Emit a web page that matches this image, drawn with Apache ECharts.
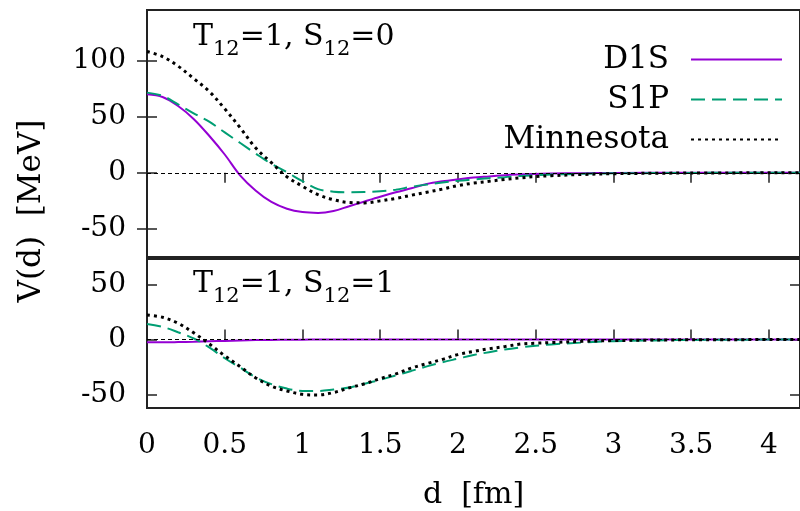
<!DOCTYPE html>
<html>
<head>
<meta charset="utf-8">
<script src="https://cdn.jsdelivr.net/npm/echarts@6/dist/echarts.min.js"></script>
<style>html,body{margin:0;padding:0;background:#fff}#c{width:800px;height:511px}</style>
</head>
<body>
<div id="c"></div>
<script>
// distance d [fm]
const d = [0, 0.1, 0.2, 0.3, 0.4, 0.5, 0.6, 0.7, 0.8, 0.9, 1.0, 1.1, 1.2, 1.3, 1.4, 1.5, 1.6, 1.7, 1.8, 1.9, 2.0, 2.1, 2.2, 2.3, 2.4, 2.5, 2.6, 2.8, 3.0, 3.5, 4.2];
// T12=1, S12=0 panel
const topD1S = [70, 67.5, 59.5, 48, 33, 16.3, -2.5, -16, -26, -32, -35, -35.7, -34, -29.8, -25.5, -21.3, -17.4, -13.8, -10, -7.6, -5.8, -4.2, -3.2, -2.2, -1.4, -1, -0.6, -0.3, -0.1, 0, 0];
const topS1P = [71.4, 68.5, 61, 53, 45.5, 36, 26.5, 17, 8, 0.5, -7.5, -14.5, -16.8, -17.3, -17.2, -16.5, -15, -12.5, -10.5, -8.7, -7.2, -6, -4.8, -3.9, -2.8, -2.2, -1.6, -0.9, -0.5, -0.1, 0];
const topMinn = [108, 103.5, 95, 84, 72.5, 57, 40, 22, 9, -3.5, -12, -19.5, -24, -26.5, -26.8, -25, -22.8, -20, -17.3, -14.5, -11.4, -9.2, -7.6, -5.9, -4.5, -3.4, -2.6, -1.5, -0.8, -0.2, 0];
// T12=1, S12=1 panel
const botD1S = [-2.5, -2.5, -2.3, -2, -1.6, -1.2, -0.8, -0.5, -0.3, -0.2, -0.1, 0, 0, 0, 0, 0, 0, 0, 0, 0, 0, 0, 0, 0, 0, 0, 0, 0, 0, 0, 0];
const botS1P = [14.1, 11.5, 6.6, 1, -7.1, -16.9, -25.5, -34.3, -40.4, -44.4, -46.5, -46.6, -45.3, -43.5, -40, -36.5, -32.5, -28.4, -24.3, -20.6, -17.3, -14, -11.4, -9, -7.1, -5.6, -4.4, -2.7, -1.5, -0.3, 0];
const botMinn = [22.3, 20.2, 14.8, 6.1, -3.9, -14.7, -24.6, -34.8, -42.2, -46.6, -49.6, -50.2, -48, -43.8, -40, -35.4, -31.1, -25.8, -21.8, -17.9, -13.6, -10.8, -8.3, -6.4, -4.1, -3.3, -2.7, -1.6, -0.9, -0.2, 0];
// tick labels
const xTicks = [0, 0.5, 1, 1.5, 2, 2.5, 3, 3.5, 4];
const yTicksTop = [-50, 0, 50, 100];
const yTicksBot = [-50, 0, 50];
const seriesNames = ['D1S', 'S1P', 'Minnesota'];
// panel labels: [text, isSubscript]
const labelTop = [['T', false], ['12', true], ['=1, S', false], ['12', true], ['=0', false]];
const labelBot = [['T', false], ['12', true], ['=1, S', false], ['12', true], ['=1', false]];

const zip = ys => d.map((x, i) => [x, ys[i]]);
const FONT = 'DejaVu Serif';
const INK = '#000';
const FRAME = '#222';

const styles = {
  'D1S': {color: '#9400d3', width: 2, type: 'solid'},
  'S1P': {color: '#009e73', width: 2, type: [14, 7]},
  'Minnesota': {color: '#000000', width: 3, type: [3, 4]}
};

function mkSeries(name, ys, gi, withZero) {
  const s = styles[name];
  const o = {
    name: name, type: 'line', xAxisIndex: gi === 0 ? 0 : 2, yAxisIndex: gi === 0 ? 0 : 2,
    data: zip(ys), smooth: 0.35, symbol: 'none', showSymbol: false,
    lineStyle: {color: s.color, width: s.width, type: s.type},
    itemStyle: {color: s.color}, animation: false, silent: true
  };
  if (withZero) {
    o.markLine = {
      silent: true, symbol: ['none', 'none'], label: {show: false},
      lineStyle: {color: '#000', width: 1, type: [4, 3]},
      data: [{yAxis: 0}], animation: false
    };
  }
  return o;
}

// build a label with subscripts as separate text pieces laid out by measured widths
const mctx = document.createElement('canvas').getContext('2d');
function panelLabel(parts, x0, baseline) {
  const out = [];
  let x = x0;
  parts.forEach(([txt, sub]) => {
    const size = sub ? 21 : 30;
    const font = size + 'px "' + FONT + '"';
    mctx.font = font;
    const w = mctx.measureText(txt).width;
    const base = sub ? baseline + 10 : baseline;
    out.push({type: 'text', x: x, y: base, silent: true,
      style: {text: txt, fontFamily: FONT, fontSize: size, fontWeight: 'normal', fill: INK, align: 'left', verticalAlign: 'bottom'}});
    x += w;
  });
  return out;
}
// baseline correction: 'bottom' aligns em-box bottom; DejaVu descent ~0.236em
const desc = s => 0.236 * s;
function labelGraphics(parts, x0, baseline) {
  return panelLabel(parts, x0, baseline).map(g => {
    g.y = g.y + desc(g.style.fontSize);
    return g;
  });
}

const tick = (vals) => ({show: true, inside: true, length: 10, customValues: vals, lineStyle: {color: FRAME, width: 1.5}});
const noLine = {show: false};

const chart = echarts.init(document.getElementById('c'), null, {renderer: 'canvas'});
const legendCommon = {
  orient: 'vertical', align: 'right', right: 17, padding: 0,
  itemWidth: 91, itemHeight: 30, selectedMode: false,
  itemStyle: {opacity: 0},
  textStyle: {fontFamily: FONT, fontSize: 31, color: INK, lineHeight: 30, padding: [0, 17, 0, 0]}
};
chart.setOption({
  backgroundColor: '#fff',
  animation: false,
  grid: [
    {left: 147, top: 10, width: 655, height: 247, show: true, borderColor: FRAME, borderWidth: 2, backgroundColor: 'transparent'},
    {left: 147, top: 259, width: 655, height: 151, show: true, borderColor: FRAME, borderWidth: 2, backgroundColor: 'transparent'}
  ],
  xAxis: [
    {type: 'value', gridIndex: 0, position: 'bottom', min: 0, max: 4.2, interval: 0.5,
      axisLine: noLine, axisTick: {show: false}, axisLabel: {show: false}, splitLine: {show: false}},
    {type: 'value', gridIndex: 0, position: 'top', min: 0, max: 4.2, interval: 0.5,
      axisLine: noLine, axisTick: tick(xTicks), axisLabel: {show: false}, splitLine: {show: false}},
    {type: 'value', gridIndex: 1, position: 'bottom', min: 0, max: 4.2, interval: 0.5,
      axisLine: noLine, axisTick: tick(xTicks),
      axisLabel: {show: true, customValues: xTicks, margin: 24, fontFamily: FONT, fontSize: 28, color: INK},
      splitLine: {show: false},
      name: 'd  [fm]', nameLocation: 'middle', nameGap: 72,
      nameTextStyle: {fontFamily: FONT, fontSize: 30, color: INK}}
  ],
  yAxis: [
    {type: 'value', gridIndex: 0, position: 'left', min: -75, max: 145,
      axisLine: noLine, axisTick: tick(yTicksTop),
      axisLabel: {show: true, customValues: yTicksTop, margin: 21, fontFamily: FONT, fontSize: 28, color: INK},
      splitLine: {show: false}},
    {type: 'value', gridIndex: 0, position: 'right', min: -75, max: 145,
      axisLine: noLine, axisTick: tick(yTicksTop), axisLabel: {show: false}, splitLine: {show: false}},
    {type: 'value', gridIndex: 1, position: 'left', min: -62, max: 73,
      axisLine: noLine, axisTick: tick(yTicksBot),
      axisLabel: {show: true, customValues: yTicksBot, margin: 21, fontFamily: FONT, fontSize: 28, color: INK},
      splitLine: {show: false}},
    {type: 'value', gridIndex: 1, position: 'right', min: -62, max: 73,
      axisLine: noLine, axisTick: tick(yTicksBot), axisLabel: {show: false}, splitLine: {show: false}}
  ],
  legend: [
    Object.assign({}, legendCommon, {top: 44, data: [seriesNames[0]]}),
    Object.assign({}, legendCommon, {top: 84, data: [seriesNames[1]]}),
    Object.assign({}, legendCommon, {top: 124, data: [seriesNames[2]]})
  ],
  graphic: [
    {type: 'text', x: 32, y: 211, rotation: Math.PI / 2, silent: true,
      style: {text: 'V(d)  [MeV]', fontFamily: FONT, fontSize: 31, fill: INK, align: 'center', verticalAlign: 'middle'}}
  ].concat(labelGraphics(labelTop, 193, 45), labelGraphics(labelBot, 193, 292)),
  series: [
    mkSeries('D1S', topD1S, 0, true),
    mkSeries('S1P', topS1P, 0, false),
    mkSeries('Minnesota', topMinn, 0, false),
    mkSeries('D1S', botD1S, 1, true),
    mkSeries('S1P', botS1P, 1, false),
    mkSeries('Minnesota', botMinn, 1, false)
  ]
});
</script>
</body>
</html>
